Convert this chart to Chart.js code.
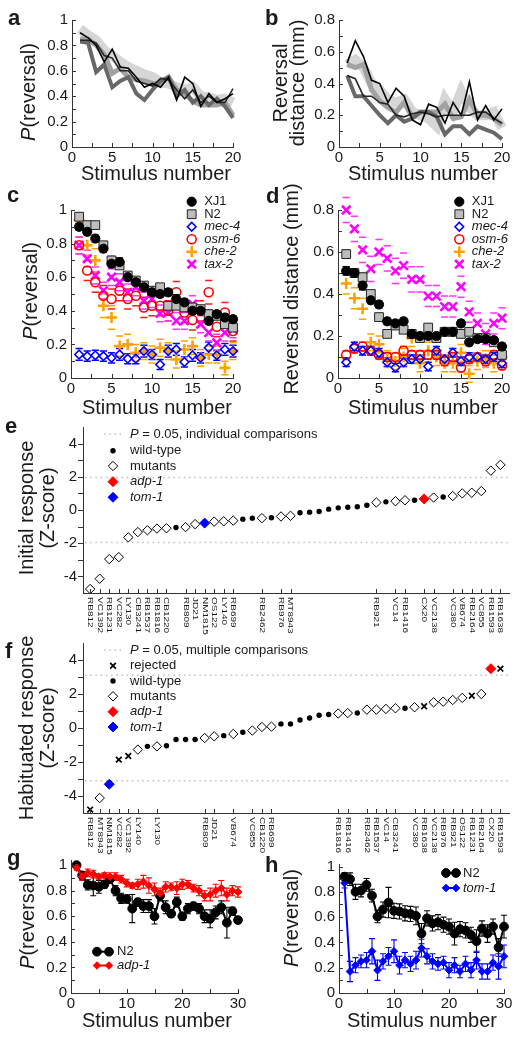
<!DOCTYPE html>
<html lang="en">
<head>
<meta charset="utf-8">
<title>Habituation screen figure</title>
<script src="https://cdn.jsdelivr.net/npm/chart.js@4.4.1/dist/chart.umd.min.js"></script>
<style>
  html, body { margin: 0; padding: 0; background: #fff; }
  #fig { position: relative; width: 520px; height: 1040px; overflow: hidden; }
  #fig canvas { position: absolute; }
</style>
</head>
<body>
<div id="fig">
  <canvas id="chartA"></canvas>
  <canvas id="chartB"></canvas>
  <canvas id="chartC"></canvas>
  <canvas id="chartD"></canvas>
  <canvas id="chartE"></canvas>
  <canvas id="chartF"></canvas>
  <canvas id="chartG"></canvas>
  <canvas id="chartH"></canvas>
</div>
<script>
const FONT = '"Liberation Sans", Arial, Helvetica, sans-serif';
const INK = '#1a1a1a';
Chart.defaults.font.family = FONT;
Chart.defaults.color = INK;

// ---------- data ----------
const stim20 = [1, 2, 3, 4, 5, 6, 7, 8, 9, 10, 11, 12, 13, 14, 15, 16, 17, 18, 19, 20];
const stim30 = [1, 2, 3, 4, 5, 6, 7, 8, 9, 10, 11, 12, 13, 14, 15, 16, 17, 18, 19, 20,
                21, 22, 23, 24, 25, 26, 27, 28, 29, 30];

const stimTicks20 = [0, 5, 10, 15, 20];
const stimTicks30 = [0, 10, 20, 30];
const probTicks = [0, 0.2, 0.4, 0.6, 0.8, 1];
const distTicks = [0, 0.2, 0.4, 0.6, 0.8];
const zTicks = [-4, -2, 0, 2, 4];

// a: P(reversal), five traces
const aLight = [0.93, 0.88, 0.84, 0.76, 0.72, 0.67, 0.63, 0.60, 0.57, 0.55, 0.51, 0.50, 0.47, 0.45, 0.47, 0.40, 0.39, 0.37, 0.38, 0.35];
const aMid   = [0.85, 0.85, 0.80, 0.73, 0.58, 0.62, 0.55, 0.53, 0.52, 0.50, 0.50, 0.55, 0.45, 0.42, 0.36, 0.33, 0.33, 0.33, 0.35, 0.25];
const aDark  = [0.83, 0.82, 0.59, 0.65, 0.47, 0.52, 0.55, 0.42, 0.37, 0.45, 0.52, 0.55, 0.40, 0.45, 0.35, 0.40, 0.33, 0.38, 0.32, 0.23];
const aBlk1  = [0.90, 0.86, 0.80, 0.67, 0.77, 0.63, 0.62, 0.55, 0.47, 0.50, 0.47, 0.55, 0.37, 0.55, 0.50, 0.32, 0.42, 0.35, 0.38, 0.42];
const aBlk2  = [0.84, 0.84, 0.82, 0.72, 0.70, 0.60, 0.60, 0.52, 0.50, 0.48, 0.54, 0.53, 0.45, 0.38, 0.45, 0.35, 0.40, 0.35, 0.35, 0.46];

// b: reversal distance, five traces
const bLight = [0.52, 0.55, 0.50, 0.40, 0.36, 0.30, 0.28, 0.30, 0.22, 0.20, 0.18, 0.13, 0.30, 0.22, 0.35, 0.25, 0.20, 0.20, 0.22, 0.12];
const bMid   = [0.52, 0.50, 0.52, 0.36, 0.29, 0.25, 0.22, 0.28, 0.19, 0.22, 0.22, 0.22, 0.27, 0.18, 0.19, 0.30, 0.20, 0.20, 0.18, 0.14];
const bDark  = [0.45, 0.32, 0.32, 0.26, 0.20, 0.15, 0.20, 0.16, 0.18, 0.22, 0.22, 0.19, 0.08, 0.13, 0.13, 0.08, 0.13, 0.11, 0.09, 0.05];
const bBlk1  = [0.53, 0.67, 0.57, 0.42, 0.40, 0.28, 0.37, 0.32, 0.17, 0.14, 0.27, 0.25, 0.15, 0.28, 0.20, 0.41, 0.17, 0.26, 0.17, 0.24];
const bBlk2  = [0.45, 0.43, 0.32, 0.32, 0.28, 0.27, 0.20, 0.19, 0.21, 0.22, 0.21, 0.19, 0.20, 0.20, 0.20, 0.20, 0.22, 0.22, 0.18, 0.15];

// c: P(reversal) by strain, with SEM
const cXJ1  = [0.90, 0.87, 0.83, 0.77, 0.68, 0.69, 0.60, 0.57, 0.54, 0.51, 0.50, 0.51, 0.47, 0.45, 0.40, 0.40, 0.34, 0.38, 0.36, 0.35];
const cN2   = [0.96, 0.91, 0.91, 0.79, 0.70, 0.67, 0.61, 0.58, 0.55, 0.52, 0.54, 0.43, 0.43, 0.42, 0.42, 0.41, 0.38, 0.37, 0.32, 0.30];
const cMec4 = [0.14, 0.13, 0.135, 0.13, 0.12, 0.14, 0.115, 0.115, 0.16, 0.14, 0.08, 0.16, 0.17, 0.095, 0.135, 0.12, 0.18, 0.135, 0.17, 0.16];
const cOsm6 = [0.79, 0.64, 0.57, 0.49, 0.47, 0.52, 0.47, 0.49, 0.42, 0.43, 0.43, 0.40, 0.51, 0.39, 0.345, 0.40, 0.51, 0.305, 0.39, 0.28];
const cChe2 = [0.94, 0.79, 0.70, 0.43, 0.36, 0.19, 0.20, 0.15, 0.16, 0.14, 0.18, 0.16, 0.11, 0.17, 0.19, 0.12, 0.14, 0.14, 0.06, 0.16];
const cTax2 = [0.79, 0.71, 0.61, 0.52, 0.60, 0.57, 0.51, 0.54, 0.46, 0.47, 0.385, 0.39, 0.34, 0.34, 0.44, 0.32, 0.27, 0.21, 0.27, 0.29];
const cXJ1Err  = [0.02, 0.02, 0.02, 0.02, 0.02, 0.025, 0.02, 0.02, 0.02, 0.02, 0.02, 0.02, 0.025, 0.02, 0.02, 0.02, 0.02, 0.02, 0.02, 0.02];
const cN2Err   = [0.02, 0.02, 0.02, 0.02, 0.025, 0.02, 0.02, 0.02, 0.02, 0.02, 0.02, 0.02, 0.02, 0.02, 0.02, 0.02, 0.025, 0.02, 0.02, 0.02];
const cMec4Err = [0.035, 0.03, 0.03, 0.03, 0.03, 0.035, 0.03, 0.03, 0.035, 0.03, 0.03, 0.035, 0.035, 0.03, 0.035, 0.03, 0.035, 0.03, 0.035, 0.035];
const cOsm6Err = [0.05, 0.06, 0.06, 0.06, 0.06, 0.06, 0.06, 0.06, 0.06, 0.06, 0.06, 0.06, 0.065, 0.06, 0.06, 0.06, 0.07, 0.06, 0.06, 0.06];
const cChe2Err = [0.04, 0.06, 0.07, 0.07, 0.07, 0.06, 0.06, 0.05, 0.05, 0.05, 0.05, 0.05, 0.05, 0.05, 0.05, 0.05, 0.05, 0.05, 0.04, 0.05];
const cTax2Err = [0.05, 0.05, 0.05, 0.05, 0.05, 0.05, 0.05, 0.05, 0.05, 0.05, 0.05, 0.05, 0.05, 0.05, 0.05, 0.05, 0.05, 0.05, 0.05, 0.05];

// d: reversal distance by strain, with SEM
const dXJ1  = [0.51, 0.50, 0.44, 0.37, 0.35, 0.27, 0.26, 0.27, 0.21, 0.20, 0.20, 0.20, 0.22, 0.22, 0.26, 0.17, 0.185, 0.185, 0.18, 0.15];
const dN2   = [0.59, 0.50, 0.48, 0.40, 0.29, 0.21, 0.25, 0.23, 0.21, 0.19, 0.24, 0.19, 0.22, 0.22, 0.21, 0.22, 0.19, 0.19, 0.17, 0.11];
const dMec4 = [0.075, 0.15, 0.13, 0.13, 0.12, 0.075, 0.05, 0.075, 0.09, 0.09, 0.055, 0.13, 0.09, 0.12, 0.08, 0.10, 0.10, 0.09, 0.10, 0.07];
const dOsm6 = [0.11, 0.14, 0.15, 0.13, 0.11, 0.10, 0.10, 0.13, 0.11, 0.11, 0.11, 0.11, 0.08, 0.10, 0.05, 0.09, 0.10, 0.08, 0.11, 0.06];
const dChe2 = [0.45, 0.38, 0.33, 0.17, 0.16, 0.09, 0.08, 0.10, 0.19, 0.07, 0.13, 0.10, 0.07, 0.07, 0.12, 0.02, 0.08, 0.09, 0.07, 0.10];
const dTax2 = [0.80, 0.71, 0.61, 0.52, 0.60, 0.57, 0.51, 0.535, 0.47, 0.47, 0.39, 0.39, 0.34, 0.34, 0.435, 0.315, 0.26, 0.21, 0.26, 0.285];
const dXJ1Err  = [0.02, 0.02, 0.02, 0.015, 0.015, 0.015, 0.015, 0.015, 0.015, 0.015, 0.015, 0.015, 0.015, 0.015, 0.015, 0.015, 0.015, 0.015, 0.015, 0.015];
const dN2Err   = [0.02, 0.02, 0.02, 0.015, 0.015, 0.015, 0.015, 0.015, 0.015, 0.015, 0.015, 0.015, 0.015, 0.015, 0.015, 0.015, 0.015, 0.015, 0.015, 0.015];
const dMec4Err = [0.02, 0.02, 0.02, 0.02, 0.02, 0.02, 0.02, 0.02, 0.02, 0.02, 0.02, 0.02, 0.02, 0.02, 0.02, 0.02, 0.02, 0.02, 0.02, 0.02];
const dOsm6Err = [0.02, 0.02, 0.02, 0.02, 0.02, 0.02, 0.02, 0.02, 0.02, 0.02, 0.02, 0.02, 0.02, 0.02, 0.02, 0.02, 0.02, 0.02, 0.02, 0.02];
const dChe2Err = [0.05, 0.05, 0.05, 0.04, 0.04, 0.04, 0.04, 0.04, 0.04, 0.04, 0.04, 0.04, 0.04, 0.04, 0.04, 0.04, 0.04, 0.04, 0.04, 0.04];
const dTax2Err = [0.06, 0.06, 0.06, 0.06, 0.06, 0.06, 0.06, 0.06, 0.06, 0.06, 0.05, 0.05, 0.05, 0.05, 0.05, 0.05, 0.05, 0.05, 0.05, 0.05];

// e: initial response Z-scores, ranked. kinds: m mutant, w wild-type, a adp-1, t tom-1
const eZ = [-4.76, -4.14, -2.96, -2.84, -1.65, -1.33, -1.22, -1.12, -1.10, -1.05, -1.03, -0.85, -0.79, -0.70, -0.68,
            -0.64, -0.55, -0.49, -0.49, -0.47, -0.39, -0.35, -0.17, -0.13, -0.09, 0.05, 0.13, 0.17, 0.20, 0.29,
            0.45, 0.49, 0.53, 0.59, 0.59, 0.67, 0.75, 0.78, 0.84, 1.00, 1.04, 1.14, 2.37, 2.72];
const eKinds = ['m', 'm', 'm', 'm', 'm', 'm', 'm', 'm', 'm', 'w', 'm', 'm', 't', 'm', 'm',
                'm', 'w', 'w', 'm', 'w', 'm', 'm', 'w', 'w', 'w', 'w', 'w', 'w', 'w', 'w',
                'm', 'w', 'm', 'm', 'w', 'a', 'm', 'w', 'm', 'm', 'm', 'm', 'm', 'm'];
const eStrains = ['RB812', 'VC1392', 'RB1231', 'VC282', 'LY130', 'CB3241', 'RB1537', 'RB1816', 'CB1220', '', 'RB809', 'JD21', 'NM1815', 'OS122', 'LY140',
                  'RB699', '', '', 'RB2462', '', 'RB976', 'MT8943', '', '', '', '', '', '', '', '',
                  'RB921', '', 'VC14', 'RB1416', '', 'CX20', 'VC2138', '', 'VC380', 'VB674', 'RB2164', 'VC855', 'RB1593', 'RB1638'];
const eCutoff = [1.96, -1.96];

// f: habituated response Z-scores, ranked. kinds add r = rejected
const fZ = [-4.80, -4.12, -3.31, -1.86, -1.65, -1.27, -1.08, -1.08, -1.04, -0.68, -0.68, -0.68, -0.59, -0.49, -0.45,
            -0.35, -0.25, -0.15, 0.06, 0.08, 0.24, 0.24, 0.47, 0.59, 0.75, 0.79, 0.85, 0.88, 0.88, 1.08,
            1.08, 1.12, 1.16, 1.16, 1.22, 1.28, 1.51, 1.55, 1.65, 1.77, 1.90, 2.00, 3.49, 3.49];
const fKinds = ['r', 'm', 't', 'r', 'r', 'm', 'w', 'm', 'w', 'w', 'w', 'w', 'm', 'm', 'w',
                'm', 'w', 'm', 'm', 'm', 'w', 'w', 'w', 'w', 'w', 'w', 'm', 'm', 'w', 'm',
                'm', 'm', 'm', 'w', 'm', 'r', 'm', 'm', 'm', 'm', 'r', 'm', 'a', 'r'];
const fStrains = ['RB812', 'MT8943', 'NM1815', 'VC282', 'VC1392', 'LY140', '', 'LY130', '', '', '', '', 'RB809', 'JD21', '',
                  'VB674', '', 'VC855', 'CB1220', 'RB699', '', '', '', '', '', '', 'RB1816', 'RB1416', '', 'RB2462',
                  'RB1537', 'VC14', 'CB3241', '', 'VC380', 'RB1638', 'VC2138', 'RB976', 'RB921', 'OS122', 'RB1231', 'RB2164', 'CX20', 'RB1593'];
const fCutoff = [3.1, -3.1];

// g: N2 vs adp-1
const gN2     = [1.00, 0.92, 0.845, 0.84, 0.83, 0.85, 0.89, 0.80, 0.74, 0.735, 0.66, 0.71, 0.68, 0.68, 0.60,
                 0.76, 0.67, 0.62, 0.71, 0.60, 0.66, 0.68, 0.66, 0.60, 0.58, 0.63, 0.67, 0.55, 0.64, 0.57];
const gN2Err  = [0.02, 0.03, 0.04, 0.08, 0.05, 0.03, 0.03, 0.04, 0.04, 0.03, 0.11, 0.03, 0.05, 0.05, 0.06,
                 0.04, 0.05, 0.03, 0.04, 0.03, 0.04, 0.03, 0.04, 0.05, 0.07, 0.05, 0.05, 0.12, 0.03, 0.02];
const gAdp1   = [0.98, 0.91, 0.94, 0.93, 0.91, 0.92, 0.91, 0.91, 0.89, 0.86, 0.84, 0.85, 0.87, 0.84, 0.81,
                 0.78, 0.83, 0.83, 0.82, 0.85, 0.85, 0.82, 0.80, 0.76, 0.77, 0.80, 0.82, 0.77, 0.80, 0.79];
const gAdp1Err = [0.02, 0.03, 0.03, 0.03, 0.02, 0.02, 0.03, 0.03, 0.03, 0.03, 0.02, 0.04, 0.05, 0.06, 0.05,
                  0.04, 0.04, 0.03, 0.05, 0.04, 0.03, 0.03, 0.04, 0.04, 0.05, 0.05, 0.06, 0.05, 0.04, 0.04];

// h: N2 vs tom-1
const hN2     = [0.92, 0.90, 0.80, 0.81, 0.855, 0.77, 0.605, 0.66, 0.715, 0.65, 0.645, 0.63, 0.625, 0.61, 0.47,
                 0.59, 0.55, 0.56, 0.54, 0.525, 0.47, 0.505, 0.495, 0.46, 0.41, 0.51, 0.47, 0.525, 0.36, 0.525];
const hN2Err  = [0.03, 0.05, 0.06, 0.05, 0.05, 0.05, 0.05, 0.06, 0.12, 0.06, 0.06, 0.06, 0.06, 0.07, 0.08,
                 0.06, 0.06, 0.06, 0.06, 0.06, 0.09, 0.06, 0.06, 0.06, 0.09, 0.06, 0.07, 0.06, 0.07, 0.09];
const hTom1   = [0.87, 0.17, 0.22, 0.25, 0.26, 0.33, 0.18, 0.25, 0.29, 0.33, 0.22, 0.26, 0.23, 0.26, 0.355,
                 0.29, 0.25, 0.23, 0.24, 0.18, 0.22, 0.17, 0.23, 0.18, 0.26, 0.17, 0.17, 0.24, 0.21, 0.29];
const hTom1Err = [0.04, 0.08, 0.06, 0.05, 0.06, 0.10, 0.08, 0.06, 0.07, 0.09, 0.07, 0.06, 0.06, 0.07, 0.07,
                  0.06, 0.06, 0.05, 0.05, 0.06, 0.06, 0.05, 0.06, 0.06, 0.07, 0.06, 0.06, 0.06, 0.10, 0.09];

// ---------- marker styles ----------
const MK = {
  xj1:  { style: 'circle',   r: 4.6, fill: '#000',        stroke: '#000',    bw: 1 },
  n2:   { style: 'rect',     r: 6.2, fill: '#bdbdbd',     stroke: '#222',    bw: 1 },
  mec4: { style: 'rectRot',  r: 4.3, fill: 'rgba(0,0,0,0)', stroke: '#0000ff', bw: 1.6 },
  osm6: { style: 'circle',   r: 4.5, fill: 'rgba(0,0,0,0)', stroke: '#ff0000', bw: 1.6 },
  che2: { style: 'cross',    r: 5.5, fill: '#ffa200',     stroke: '#ffa200', bw: 2.6 },
  tax2: { style: 'crossRot', r: 6,   fill: '#ff00ff',     stroke: '#ff00ff', bw: 2.6 },
  wt:   { style: 'circle',   r: 2.7, fill: '#000',        stroke: '#000',    bw: 0 },
  mut:  { style: 'rectRot',  r: 4.7, fill: '#fff',        stroke: '#000',    bw: 1 },
  adp:  { style: 'rectRot',  r: 5,   fill: '#ff0000',     stroke: '#ff0000', bw: 1 },
  tom:  { style: 'rectRot',  r: 5,   fill: '#0000ff',     stroke: '#0000ff', bw: 1 },
  rej:  { style: 'crossRot', r: 4,   fill: '#000',        stroke: '#000',    bw: 1.7 },
  gN2:  { style: 'circle',   r: 4.4, fill: '#000',        stroke: '#000',    bw: 1 },
  gAdp: { style: 'rectRot',  r: 3.8, fill: '#ff0000',     stroke: '#ff0000', bw: 1 },
  hTom: { style: 'rectRot',  r: 3.8, fill: '#0000ff',     stroke: '#0000ff', bw: 1 }
};

// ---------- helpers ----------
function xy(xs, ys) { return xs.map((x, i) => ({ x, y: ys[i] })); }
function steps(a, b, d) {
  const out = [];
  for (let v = a; v <= b + 1e-9; v += d) out.push(Math.round(v * 1000) / 1000);
  return out;
}
function kindPoints(vals, kinds, k) {
  return vals.map((y, x) => ({ x, y })).filter((p, i) => kinds[i] === k);
}

function drawText(ctx, it, off) {
  ctx.save();
  ctx.translate(it.x - off.x, it.y - off.y);
  if (it.rot) ctx.rotate(it.rot);
  ctx.fillStyle = INK;
  ctx.textBaseline = it.base || 'middle';
  ctx.textAlign = 'left';
  const segs = Array.isArray(it.t) ? it.t : [[it.t, it.style || '']];
  const size = it.size || 20;
  const font = st => (st ? st + ' ' : '') + size + 'px ' + FONT;
  let w = 0;
  segs.forEach(([s, st]) => { ctx.font = font(st); w += ctx.measureText(s).width; });
  let x = it.align === 'left' ? 0 : -w / 2;
  segs.forEach(([s, st]) => { ctx.font = font(st); ctx.fillText(s, x, 0); x += ctx.measureText(s).width; });
  ctx.restore();
}

function drawMarker(ctx, m, x, y) {
  ctx.save();
  ctx.fillStyle = m.fill;
  ctx.strokeStyle = m.stroke;
  ctx.lineWidth = m.bw;
  Chart.helpers.drawPoint(ctx, { pointStyle: m.style, radius: m.r, rotation: 0, borderWidth: m.bw }, x, y);
  ctx.restore();
}

function lineSet(xs, ys, color, width) {
  return { data: xy(xs, ys), showLine: true, borderColor: color, backgroundColor: color,
           borderWidth: width, pointRadius: 0, tension: 0, clip: false };
}
function markSet(data, m, extra) {
  return Object.assign({ data, showLine: false, pointStyle: m.style, pointRadius: m.r,
    pointBackgroundColor: m.fill, pointBorderColor: m.stroke, pointBorderWidth: m.bw,
    backgroundColor: m.fill, borderColor: m.stroke, clip: false }, extra || {});
}

// ---------- plugins ----------
const errorBars = {
  id: 'errorBars',
  beforeDatasetsDraw(chart) {
    const ctx = chart.ctx, ys = chart.scales.y;
    chart.data.datasets.forEach((ds, di) => {
      if (!ds.err) return;
      const meta = chart.getDatasetMeta(di);
      ctx.save();
      ctx.strokeStyle = ds.errColor;
      ctx.lineWidth = ds.errWidth || 1;
      ctx.beginPath();
      meta.data.forEach((pt, i) => {
        const v = ds.data[i].y, e = ds.err[i], w = ds.errCap;
        const top = ys.getPixelForValue(v + e), bot = ys.getPixelForValue(v - e);
        if (!ds.errDash) { ctx.moveTo(pt.x, top); ctx.lineTo(pt.x, bot); }
        ctx.moveTo(pt.x - w, top); ctx.lineTo(pt.x + w, top);
        ctx.moveTo(pt.x - w, bot); ctx.lineTo(pt.x + w, bot);
      });
      ctx.stroke();
      ctx.restore();
    });
  }
};

function tickMarks(marks) {
  return {
    id: 'tickMarks',
    afterDraw(chart) {
      const ctx = chart.ctx;
      ctx.save();
      ctx.strokeStyle = '#333';
      ctx.lineWidth = 1;
      marks.forEach(m => {
        const s = chart.scales[m.axis], len = m.len || 4, dir = m.out ? 1 : -1;
        ctx.beginPath();
        m.values.forEach(v => {
          const p = Math.round(s.getPixelForValue(v)) + 0.5;
          if (m.axis === 'x') { ctx.moveTo(p, s.top); ctx.lineTo(p, s.top + dir * len); }
          else { ctx.moveTo(s.right, p); ctx.lineTo(s.right - dir * len, p); }
        });
        ctx.stroke();
      });
      ctx.restore();
    }
  };
}

function cutoffLines(values) {
  return {
    id: 'cutoffLines',
    beforeDatasetsDraw(chart) {
      const ctx = chart.ctx, a = chart.chartArea, ys = chart.scales.y;
      ctx.save();
      ctx.strokeStyle = '#c4c4c4';
      ctx.lineWidth = 1.6;
      ctx.setLineDash([1.6, 3.6]);
      values.forEach(v => {
        const y = ys.getPixelForValue(v);
        ctx.beginPath(); ctx.moveTo(a.left + 2, y); ctx.lineTo(a.right, y); ctx.stroke();
      });
      ctx.restore();
    }
  };
}

function strainLabels(names) {
  return {
    id: 'strainLabels',
    afterDraw(chart) {
      const s = chart.scales.x, ctx = chart.ctx;
      ctx.save();
      ctx.fillStyle = INK;
      ctx.font = '10px ' + FONT;
      ctx.textBaseline = 'middle';
      ctx.textAlign = 'left';
      names.forEach((name, i) => {
        if (!name) return;
        ctx.save();
        ctx.translate(s.getPixelForValue(i), s.top + 4);
        ctx.rotate(Math.PI / 2);
        ctx.scale(1, 0.74);
        ctx.fillText(name, 0, 0);
        ctx.restore();
      });
      ctx.restore();
    }
  };
}

function annotations(texts, keys, off) {
  return {
    id: 'annotations',
    afterDraw(chart) {
      const ctx = chart.ctx;
      keys.forEach(k => {
        const y = k.y - off.y;
        if (k.line) {
          ctx.save();
          ctx.strokeStyle = k.line.color;
          ctx.lineWidth = k.line.width;
          ctx.setLineDash(k.line.dash || []);
          ctx.beginPath(); ctx.moveTo(k.line.x1 - off.x, y); ctx.lineTo(k.line.x2 - off.x, y); ctx.stroke();
          ctx.restore();
        }
        (k.at || []).forEach(x => drawMarker(ctx, k.marker, x - off.x, y));
        drawText(ctx, { t: k.t, x: k.tx, y: k.y, size: 13, align: 'left' }, off);
      });
      texts.forEach(it => drawText(ctx, it, off));
    }
  };
}

function makeChart(id, box, area, cfg) {
  const cv = document.getElementById(id);
  cv.width = box.w; cv.height = box.h;
  cv.style.left = box.x + 'px'; cv.style.top = box.y + 'px';
  const off = { x: box.x, y: box.y };
  const yw = area.l - box.x, xh = box.y + box.h - area.b;
  const axis = (ax, fit, pad) => ({
    type: 'linear', min: ax.min, max: ax.max,
    afterFit: fit,
    afterBuildTicks: s => { s.ticks = ax.ticks.map(v => ({ value: v })); },
    ticks: { display: ax.show !== false, autoSkip: false, maxRotation: 0, padding: pad,
             font: { size: 15 }, color: INK, callback: v => String(v) },
    grid: { display: false, drawTicks: false },
    border: { display: true, color: '#333', width: 1 }
  });
  return new Chart(cv, {
    type: 'scatter',
    data: { datasets: cfg.datasets },
    options: {
      responsive: false, animation: false, events: [],
      layout: { padding: { left: 0, bottom: 0, top: area.t - box.y, right: box.x + box.w - area.r } },
      plugins: { legend: { display: false }, tooltip: { enabled: false } },
      scales: {
        x: axis(cfg.x, s => { s.height = xh; }, 2),
        y: axis(cfg.y, s => { s.width = yw; }, cfg.yPad || 4)
      }
    },
    plugins: [errorBars, tickMarks(cfg.marks)].concat(cfg.plugins || [],
             [annotations(cfg.texts || [], cfg.keys || [], off)])
  });
}

const stimMarks20 = [{ axis: 'x', values: steps(0, 20, 2.5) }];
const stimMarks30 = [{ axis: 'x', values: steps(0, 30, 5) }];
const pTitle = [['P', 'italic'], ['(reversal)', '']];

// ---------- a ----------
makeChart('chartA', { x: 0, y: 0, w: 260, h: 182 }, { l: 72, t: 20, r: 233, b: 147 }, {
  x: { min: 0, max: 20, ticks: stimTicks20 },
  y: { min: 0, max: 1, ticks: probTicks },
  marks: stimMarks20.concat([{ axis: 'y', values: steps(0, 1, 0.1) }]),
  datasets: [
    lineSet(stim20, aBlk1, '#000', 1.6),
    lineSet(stim20, aBlk2, '#262626', 1.6),
    lineSet(stim20, aDark, '#686868', 4),
    lineSet(stim20, aMid, '#a2a2a2', 5),
    lineSet(stim20, aLight, '#d6d6d6', 10)
  ],
  texts: [
    { t: 'a', style: 'bold', size: 22, x: 8, y: 25, align: 'left', base: 'alphabetic' },
    { t: pTitle, x: 29, y: 92, rot: -Math.PI / 2 },
    { t: 'Stimulus number', x: 156, y: 174 }
  ]
});

// ---------- b ----------
makeChart('chartB', { x: 260, y: 0, w: 260, h: 182 }, { l: 339, t: 20, r: 502, b: 147 }, {
  x: { min: 0, max: 20, ticks: stimTicks20 },
  y: { min: 0, max: 0.8, ticks: distTicks },
  marks: stimMarks20.concat([{ axis: 'y', values: steps(0, 0.8, 0.1) }]),
  datasets: [
    lineSet(stim20, bBlk1, '#000', 1.6),
    lineSet(stim20, bBlk2, '#262626', 1.6),
    lineSet(stim20, bDark, '#686868', 4),
    lineSet(stim20, bMid, '#a2a2a2', 5),
    lineSet(stim20, bLight, '#d6d6d6', 10)
  ],
  texts: [
    { t: 'b', style: 'bold', size: 22, x: 265, y: 25, align: 'left', base: 'alphabetic' },
    { t: 'Reversal', x: 281, y: 83, rot: -Math.PI / 2 },
    { t: 'distance (mm)', x: 298, y: 83, rot: -Math.PI / 2 },
    { t: 'Stimulus number', x: 423, y: 174 }
  ]
});

// ---------- c / d shared legend ----------
function strainKeys(mx) {
  const tx = mx + 12.5, rows = [201.7, 214.2, 226.7, 239.2, 251.7, 264.2];
  return [
    { marker: MK.xj1,  at: [mx], y: rows[0], tx, t: 'XJ1' },
    { marker: MK.n2,   at: [mx], y: rows[1], tx, t: 'N2' },
    { marker: MK.mec4, at: [mx], y: rows[2], tx, t: [['mec-4', 'italic']] },
    { marker: MK.osm6, at: [mx], y: rows[3], tx, t: [['osm-6', 'italic']] },
    { marker: MK.che2, at: [mx], y: rows[4], tx, t: [['che-2', 'italic']] },
    { marker: MK.tax2, at: [mx], y: rows[5], tx, t: [['tax-2', 'italic']] }
  ];
}
function strainSets(v, e) {
  const dash = (err, color) => ({ err, errColor: color, errDash: true, errCap: 3.6, errWidth: 1.5 });
  return [
    markSet(xy(stim20, v.xj1), MK.xj1, dash(e.xj1, '#000')),
    markSet(xy(stim20, v.n2), MK.n2, dash(e.n2, '#8a8a8a')),
    markSet(xy(stim20, v.mec4), MK.mec4, dash(e.mec4, '#0000ff')),
    markSet(xy(stim20, v.osm6), MK.osm6, dash(e.osm6, '#ff1a1a')),
    markSet(xy(stim20, v.tax2), MK.tax2, dash(e.tax2, '#ff33ff')),
    markSet(xy(stim20, v.che2), MK.che2, dash(e.che2, '#ffa200'))
  ];
}

// ---------- c ----------
makeChart('chartC', { x: 0, y: 178, w: 260, h: 239 }, { l: 71, t: 210, r: 233, b: 378 }, {
  x: { min: 0, max: 20, ticks: stimTicks20 },
  y: { min: 0, max: 1, ticks: probTicks },
  marks: stimMarks20.concat([{ axis: 'y', values: steps(0, 1, 0.1) }]),
  datasets: strainSets(
    { xj1: cXJ1, n2: cN2, mec4: cMec4, osm6: cOsm6, che2: cChe2, tax2: cTax2 },
    { xj1: cXJ1Err, n2: cN2Err, mec4: cMec4Err, osm6: cOsm6Err, che2: cChe2Err, tax2: cTax2Err }),
  keys: strainKeys(191.7),
  texts: [
    { t: 'c', style: 'bold', size: 22, x: 7, y: 202, align: 'left', base: 'alphabetic' },
    { t: pTitle, x: 31, y: 291, rot: -Math.PI / 2 },
    { t: 'Stimulus number', x: 157, y: 408 }
  ]
});

// ---------- d ----------
makeChart('chartD', { x: 260, y: 178, w: 260, h: 239 }, { l: 338, t: 210, r: 502, b: 378 }, {
  x: { min: 0, max: 20, ticks: stimTicks20 },
  y: { min: 0, max: 0.8, ticks: distTicks },
  marks: stimMarks20.concat([{ axis: 'y', values: steps(0, 0.8, 0.1) }]),
  datasets: strainSets(
    { xj1: dXJ1, n2: dN2, mec4: dMec4, osm6: dOsm6, che2: dChe2, tax2: dTax2 },
    { xj1: dXJ1Err, n2: dN2Err, mec4: dMec4Err, osm6: dOsm6Err, che2: dChe2Err, tax2: dTax2Err }),
  keys: strainKeys(459.3),
  texts: [
    { t: 'd', style: 'bold', size: 22, x: 266, y: 203, align: 'left', base: 'alphabetic' },
    { t: 'Reversal distance (mm)', x: 292, y: 289, rot: -Math.PI / 2 },
    { t: 'Stimulus number', x: 423, y: 408 }
  ]
});

// ---------- e / f ----------
function screenSets(vals, kinds) {
  return [
    markSet(kindPoints(vals, kinds, 'a'), MK.adp),
    markSet(kindPoints(vals, kinds, 't'), MK.tom),
    markSet(kindPoints(vals, kinds, 'w'), MK.wt),
    markSet(kindPoints(vals, kinds, 'r'), MK.rej),
    markSet(kindPoints(vals, kinds, 'm'), MK.mut)
  ];
}
function labelled(names) { return names.map((n, i) => (n ? i : null)).filter(i => i !== null); }
function screenKeys(rows, cutoffText, withRejected) {
  const mx = 113, tx = 130;
  const keys = [{ line: { x1: 104, x2: 123, color: '#c4c4c4', width: 1.6, dash: [1.6, 3.6] },
                  y: rows[0], tx, t: [['P', 'italic'], [cutoffText, '']] }];
  let r = 1;
  if (withRejected) keys.push({ marker: MK.rej, at: [mx], y: rows[r++], tx, t: 'rejected' });
  keys.push({ marker: MK.wt, at: [mx], y: rows[r++], tx, t: 'wild-type' });
  keys.push({ marker: MK.mut, at: [mx], y: rows[r++], tx, t: 'mutants' });
  keys.push({ marker: MK.adp, at: [mx], y: rows[r++], tx, t: [['adp-1', 'italic']] });
  keys.push({ marker: MK.tom, at: [mx], y: rows[r++], tx, t: [['tom-1', 'italic']] });
  return keys;
}

makeChart('chartE', { x: 0, y: 412, w: 520, h: 233 }, { l: 83, t: 423, r: 509, b: 593 }, {
  x: { min: -0.75, max: 43.9, ticks: labelled(eStrains), show: false },
  y: { min: -5, max: 5, ticks: zTicks },
  yPad: 6,
  marks: [{ axis: 'x', values: labelled(eStrains), len: 4 },
          { axis: 'y', values: steps(-4, 4, 1), len: 5, out: true }],
  datasets: screenSets(eZ, eKinds),
  plugins: [cutoffLines(eCutoff), strainLabels(eStrains)],
  keys: screenKeys([434, 450.7, 466, 481.7, 497.3], ' = 0.05, individual comparisons', false),
  texts: [
    { t: 'e', style: 'bold', size: 22, x: 5, y: 433, align: 'left', base: 'alphabetic' },
    { t: 'Initial response', x: 27, y: 508, rot: -Math.PI / 2 },
    { t: '(Z-score)', x: 48, y: 508, rot: -Math.PI / 2 }
  ]
});

makeChart('chartF', { x: 0, y: 628, w: 520, h: 232 }, { l: 83, t: 643, r: 509, b: 813 }, {
  x: { min: -0.75, max: 43.9, ticks: labelled(fStrains), show: false },
  y: { min: -5, max: 5, ticks: zTicks },
  yPad: 6,
  marks: [{ axis: 'x', values: labelled(fStrains), len: 4 },
          { axis: 'y', values: steps(-4, 4, 1), len: 5, out: true }],
  datasets: screenSets(fZ, fKinds),
  plugins: [cutoffLines(fCutoff), strainLabels(fStrains)],
  keys: screenKeys([650, 665.7, 681, 696.3, 711.7, 727], ' = 0.05, multiple comparisons', true),
  texts: [
    { t: 'f', style: 'bold', size: 22, x: 5, y: 658, align: 'left', base: 'alphabetic' },
    { t: 'Habituated response', x: 27, y: 728, rot: -Math.PI / 2 },
    { t: '(Z-score)', x: 48, y: 728, rot: -Math.PI / 2 }
  ]
});

// ---------- g / h ----------
function pairSet(ys, err, m, color) {
  return markSet(xy(stim30, ys), m, { showLine: true, borderColor: color, borderWidth: 2, tension: 0,
    err, errColor: color, errCap: 3, errWidth: 1.1 });
}

makeChart('chartG', { x: 0, y: 845, w: 260, h: 195 }, { l: 71, t: 860, r: 238, b: 993 }, {
  x: { min: 0, max: 30, ticks: stimTicks30 },
  y: { min: 0, max: 1.04, ticks: probTicks },
  marks: stimMarks30.concat([{ axis: 'y', values: steps(0, 1, 0.1) }]),
  datasets: [
    pairSet(gAdp1, gAdp1Err, MK.gAdp, '#ff0000'),
    pairSet(gN2, gN2Err, MK.gN2, '#000')
  ],
  keys: [
    { line: { x1: 97, x2: 109, color: '#000', width: 2 }, marker: MK.gN2, at: [97, 109], y: 951.7, tx: 117, t: 'N2' },
    { line: { x1: 97, x2: 109, color: '#ff0000', width: 2 }, marker: MK.gAdp, at: [97, 109], y: 965.5, tx: 117, t: [['adp-1', 'italic']] }
  ],
  texts: [
    { t: 'g', style: 'bold', size: 22, x: 7, y: 865, align: 'left', base: 'alphabetic' },
    { t: pTitle, x: 28, y: 920, rot: -Math.PI / 2 },
    { t: 'Stimulus number', x: 157, y: 1021 }
  ]
});

makeChart('chartH', { x: 260, y: 845, w: 260, h: 195 }, { l: 339, t: 864, r: 504, b: 993 }, {
  x: { min: 0, max: 30, ticks: stimTicks30 },
  y: { min: 0, max: 1.02, ticks: probTicks },
  marks: stimMarks30.concat([{ axis: 'y', values: steps(0, 1, 0.1) }]),
  datasets: [
    pairSet(hN2, hN2Err, MK.gN2, '#000'),
    pairSet(hTom1, hTom1Err, MK.hTom, '#0000ff')
  ],
  keys: [
    { line: { x1: 446, x2: 456, color: '#000', width: 2 }, marker: MK.gN2, at: [446, 456], y: 873, tx: 463, t: 'N2' },
    { line: { x1: 446, x2: 456, color: '#0000ff', width: 2 }, marker: MK.hTom, at: [446, 456], y: 888, tx: 463, t: [['tom-1', 'italic']] }
  ],
  texts: [
    { t: 'h', style: 'bold', size: 22, x: 265, y: 872, align: 'left', base: 'alphabetic' },
    { t: pTitle, x: 292, y: 918, rot: -Math.PI / 2 },
    { t: 'Stimulus number', x: 422, y: 1021 }
  ]
});
</script>
</body>
</html>
